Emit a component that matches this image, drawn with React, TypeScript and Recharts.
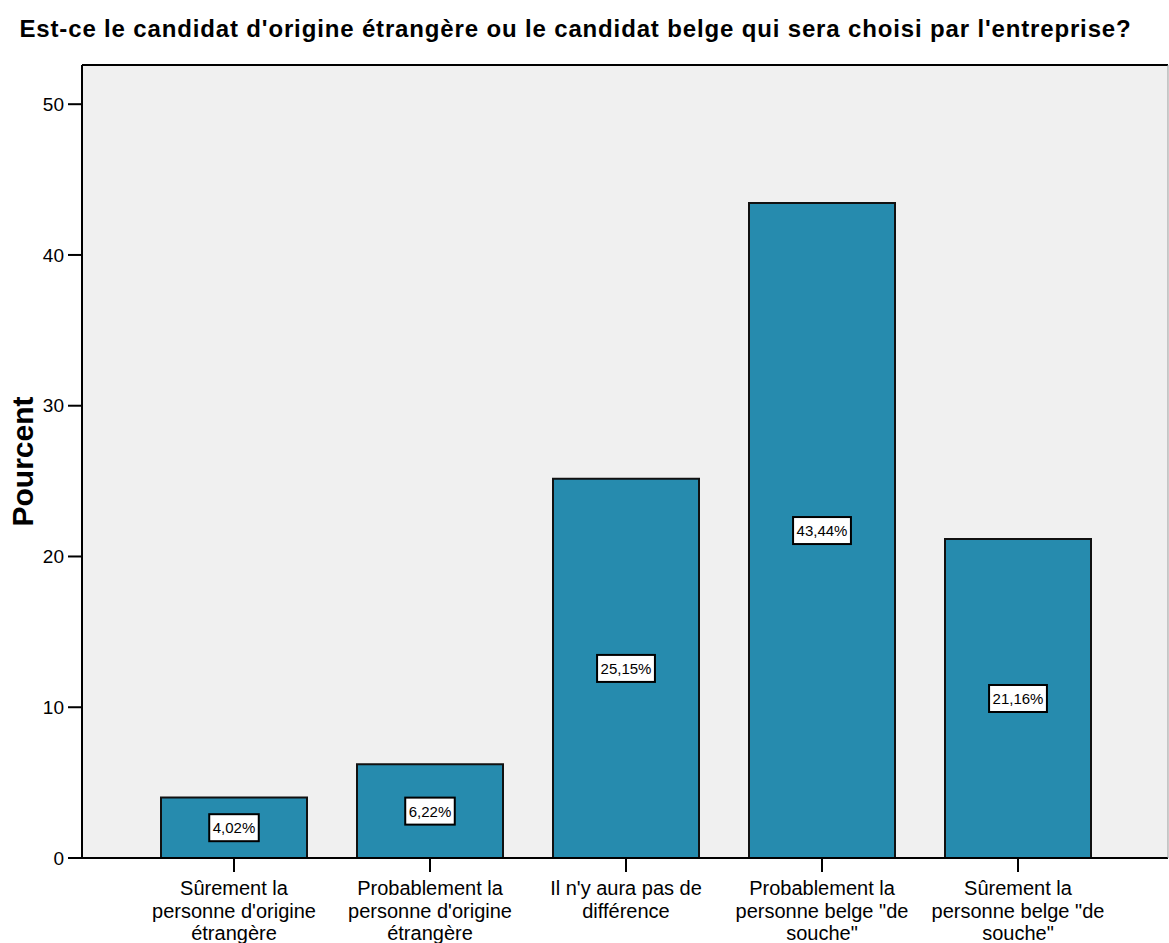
import React from "react";
import {
  BarChart,
  Bar,
  XAxis,
  YAxis,
  CartesianGrid,
  LabelList,
  ReferenceLine,
} from "recharts";

const categories = [
  "Sûrement la personne d'origine étrangère",
  "Probablement la personne d'origine étrangère",
  "Il n'y aura pas de différence",
  'Probablement la personne belge "de souche"',
  'Sûrement la personne belge "de souche"',
];
const categoryLines = [
  ["Sûrement la", "personne d'origine", "étrangère"],
  ["Probablement la", "personne d'origine", "étrangère"],
  ["Il n'y aura pas de", "différence"],
  ["Probablement la", 'personne belge "de', 'souche"'],
  ["Sûrement la", 'personne belge "de', 'souche"'],
];
const percents = [4.02, 6.22, 25.15, 43.44, 21.16];
const yTicks = [0, 10, 20, 30, 40, 50];
const yMax = 52.6;

const title =
  "Est-ce le candidat d'origine étrangère ou le candidat belge qui sera choisi par l'entreprise?";
const yLabel = "Pourcent";

const data = categories.map((c, i) => ({ name: c, value: percents[i] }));

const FONT = "'Liberation Sans', Arial, Helvetica, sans-serif";

const fmt = (v: number) => v.toFixed(2).replace(".", ",") + "%";

const charW = (ch: string) => {
  if (ch === ",") return 0.278;
  if (ch === "%") return 0.889;
  return 0.556;
};

const XTick = (props: any) => {
  const { x, y, payload } = props;
  const idx = categories.indexOf(payload.value);
  const lines = idx >= 0 ? categoryLines[idx] : [String(payload.value)];
  return (
    <text
      x={x}
      y={y}
      textAnchor="middle"
      fontFamily={FONT}
      fontSize={20}
      fill="#000"
    >
      {lines.map((l, i) => (
        <tspan key={i} x={x} y={y + 21 + i * 22.5}>
          {l}
        </tspan>
      ))}
    </text>
  );
};

const ValueLabel = (props: any) => {
  const { x, y, width, height, value } = props;
  const s = fmt(Number(value));
  const fs = 15;
  const tw = s.split("").reduce((a, c) => a + charW(c), 0) * fs;
  const bw = tw + 7;
  const bh = 27;
  const cx = x + width / 2;
  const cy = y + height / 2;
  return (
    <g>
      <rect
        x={cx - bw / 2}
        y={cy - bh / 2}
        width={bw}
        height={bh}
        fill="#fff"
        stroke="#000"
        strokeWidth={2}
      />
      <text
        x={cx}
        y={cy + 5.5}
        textAnchor="middle"
        fontFamily={FONT}
        fontSize={fs}
        fill="#000"
      >
        {s}
      </text>
    </g>
  );
};

const YLabel = (props: any) => {
  const vb = props.viewBox || { x: 22, y: 65, width: 60, height: 793 };
  const cx = 33;
  const cy = vb.y + vb.height / 2;
  return (
    <text
      x={cx}
      y={cy}
      transform={`rotate(-90, ${cx}, ${cy})`}
      textAnchor="middle"
      fontFamily={FONT}
      fontWeight="bold"
      fontSize={30}
      fill="#000"
    >
      {yLabel}
    </text>
  );
};

export default function App() {
  return (
    <div
      style={{
        position: "absolute",
        left: 0,
        top: 0,
        width: 1169,
        height: 943,
        background: "#fff",
        fontFamily: FONT,
      }}
    >
      <div
        style={{
          position: "absolute",
          left: 0,
          top: 16,
          width: 1151,
          textAlign: "center",
          fontWeight: "bold",
          fontSize: 24,
          letterSpacing: "0.85px",
          lineHeight: "26px",
          color: "#000",
          whiteSpace: "nowrap",
        }}
      >
        {title}
      </div>
      <BarChart
        width={1169}
        height={943}
        data={data}
        margin={{ top: 65, right: 0, bottom: 0, left: 22 }}
      >
        <CartesianGrid
          horizontal={false}
          vertical={false}
          fill="#f0f0f0"
          stroke="none"
          yAxisId="left"
        />
        <XAxis
          dataKey="name"
          type="category"
          height={85}
          padding={{ left: 54, right: 52 }}
          axisLine={{ stroke: "#000", strokeWidth: 2 }}
          tickLine={{ stroke: "#000", strokeWidth: 2 }}
          tickSize={14}
          tickMargin={2}
          interval={0}
          tick={<XTick />}
        />
        <YAxis
          yAxisId="left"
          width={60}
          domain={[0, yMax]}
          allowDataOverflow
          ticks={yTicks}
          axisLine={{ stroke: "#000", strokeWidth: 2 }}
          tickLine={{ stroke: "#000", strokeWidth: 2 }}
          tickSize={14}
          tickMargin={4}
          tick={{ fill: "#000", fontSize: 19, fontFamily: FONT }}
          label={<YLabel />}
        />
        <YAxis
          yAxisId="right"
          orientation="right"
          width={1}
          tick={false}
          tickLine={false}
          axisLine={{ stroke: "#9a9a9a", strokeWidth: 1 }}
        />
        <ReferenceLine
          yAxisId="left"
          y={yMax}
          stroke="#000"
          strokeWidth={2}
          ifOverflow="visible"
        />
        <Bar
          yAxisId="left"
          dataKey="value"
          fill="#268bae"
          stroke="#111"
          strokeWidth={2}
          barSize={146}
          isAnimationActive={false}
        >
          <LabelList dataKey="value" content={<ValueLabel />} />
        </Bar>
      </BarChart>
    </div>
  );
}
